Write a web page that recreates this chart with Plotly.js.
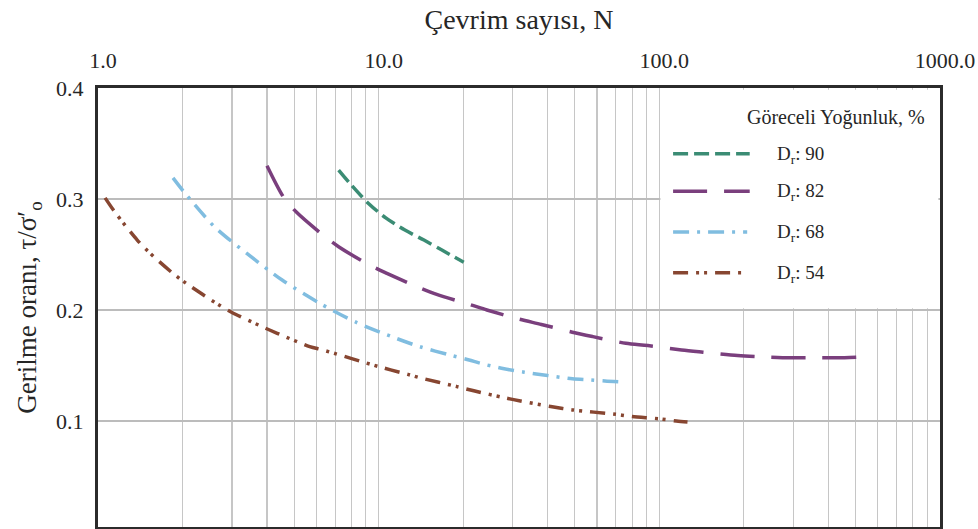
<!DOCTYPE html>
<html>
<head>
<meta charset="utf-8">
<script src="https://cdn.plot.ly/plotly-3.0.1.min.js"></script>
<style>
html,body{margin:0;padding:0;background:#fff;}
#chart{width:978px;height:529px;}
</style>
</head>
<body>
<div id="chart"></div>
<script>
// ---- data ----
const seriesNames = ["D<sub>r</sub>: 90", "D<sub>r</sub>: 82", "D<sub>r</sub>: 68", "D<sub>r</sub>: 54"];
const legendTitle = "Göreceli Yoğunluk, %";

const n90 = [7.2, 7.9, 9.2, 10.6, 12.4, 14.5, 16.8, 20.1];
const r90 = [0.326, 0.314, 0.296, 0.283, 0.272, 0.263, 0.254, 0.243];

const n82 = [4.0, 4.6, 5.1, 6.3, 7.2, 9.2, 10.7, 13.7, 16.1, 21.1, 24.3, 31.4, 38, 49, 58, 76, 91, 120, 143, 190, 225, 293, 348, 457, 555];
const r82 = [0.330, 0.301, 0.288, 0.268, 0.257, 0.241, 0.233, 0.221, 0.214, 0.205, 0.200, 0.192, 0.187, 0.180, 0.176, 0.170, 0.168, 0.164, 0.162, 0.159, 0.158, 0.157, 0.157, 0.157, 0.158];

const n68 = [1.85, 2.03, 2.6, 3.39, 4.53, 6.17, 8.3, 11.4, 14, 18.2, 21, 23, 28, 33, 40, 49, 57, 64, 75];
const r68 = [0.319, 0.306, 0.275, 0.251, 0.227, 0.206, 0.189, 0.175, 0.167, 0.159, 0.155, 0.152, 0.147, 0.144, 0.141, 0.138, 0.137, 0.136, 0.135];

const n54 = [1.06, 1.15, 1.38, 1.52, 1.87, 2.09, 2.64, 2.99, 3.84, 4.35, 5.68, 6.32, 10, 12.7, 14, 19, 22, 28, 32, 41, 49, 70, 80, 100, 115, 126];
const r54 = [0.301, 0.288, 0.263, 0.252, 0.232, 0.223, 0.206, 0.198, 0.185, 0.179, 0.167, 0.164, 0.149, 0.142, 0.139, 0.131, 0.127, 0.121, 0.118, 0.113, 0.110, 0.106, 0.104, 0.102, 0.100, 0.099];

// axis ticks
const xTickVals = [1, 10, 100, 1000];
const xTickText = ["1.0", "10.0", "100.0", "1000.0"];
const xMinorVals = [2,3,4,5,6,7,8,9,20,30,40,50,60,70,80,90,200,300,400,500,600,700,800,900];
const yTickVals = [0.1, 0.2, 0.3, 0.4];
const yTickText = ["0.1", "0.2", "0.3", "0.4"];

// ---- styles ----
const colors = ["#3b8c74", "#7a3f7d", "#80bde0", "#874631"];
const dashes = ["15px,6px", "34px,17px", "16px,8px,3px,8px", "15px,8px,3px,5px,3px,8px"];
const FONT = "'Liberation Serif', 'Times New Roman', serif";
const TXT = "#262626";
const GRID = "#c6c6c6";

const xs = [n90, n82, n68, n54];
const ys = [r90, r82, r68, r54];
const traces = xs.map((x, i) => ({
  x: x, y: ys[i], type: "scatter", mode: "lines", name: seriesNames[i],
  line: {color: colors[i], width: 3.5, dash: dashes[i], shape: "spline", smoothing: 0.8},
  showlegend: false, hoverinfo: "skip"
}));

// manual legend (white panel + samples + labels)
const legY = [0.850, 0.765, 0.672, 0.579];
const legX1 = [0.774, 0.774, 0.771, 0.765];
const shapes = [
  {type: "rect", xref: "x", yref: "y", x0: 100.9, x1: 987, y0: 0.2015, y1: 0.3985,
   fillcolor: "#ffffff", line: {width: 0}, layer: "above"}
];
const annotations = [
  {xref: "paper", yref: "paper", x: 0.985, y: 0.932, xanchor: "right", yanchor: "middle",
   text: legendTitle, showarrow: false, font: {family: FONT, size: 20, color: TXT}}
];
seriesNames.forEach((nm, i) => {
  shapes.push({type: "line", xref: "paper", yref: "paper", x0: 0.683, x1: legX1[i], y0: legY[i], y1: legY[i],
    line: {color: colors[i], width: 3.5, dash: dashes[i]}, layer: "above"});
  annotations.push({xref: "paper", yref: "paper", x: 0.804, y: legY[i] - 0.002, xanchor: "left", yanchor: "middle",
    text: nm, showarrow: false, font: {family: FONT, size: 19, color: TXT}});
});

const layout = {
  width: 978, height: 529,
  margin: {l: 98, r: 38, t: 88, b: 2, pad: 0},
  paper_bgcolor: "#ffffff", plot_bgcolor: "#ffffff",
  font: {family: FONT, color: TXT},
  showlegend: false,
  xaxis: {
    type: "log", range: [0, 3], side: "top",
    tickmode: "array", tickvals: xTickVals, ticktext: xTickText, ticks: "",
    tickfont: {family: FONT, size: 22, color: TXT},
    ticklabelstandoff: 8, ticklabelshift: 5,
    showgrid: true, gridcolor: GRID, gridwidth: 1.2,
    minor: {tickmode: "array", tickvals: xMinorVals, ticks: "", showgrid: true, gridcolor: GRID, gridwidth: 1.2},
    showline: true, linecolor: "#2b2b2b", linewidth: 3, mirror: true,
    zeroline: false,
    title: {text: "Çevrim sayısı, N", font: {family: FONT, size: 28, color: TXT}, standoff: 11}
  },
  yaxis: {
    range: [0.0045, 0.4],
    tickmode: "array", tickvals: yTickVals, ticktext: yTickText, ticks: "",
    tickfont: {family: FONT, size: 22, color: TXT},
    ticklabelstandoff: 7,
    showgrid: true, gridcolor: "#bcbcbc", gridwidth: 1.2,
    showline: true, linecolor: "#2b2b2b", linewidth: 3, mirror: true,
    zeroline: false,
    title: {text: "Gerilme oranı, τ/σ′<sub>o</sub>", font: {family: FONT, size: 27, color: TXT}, standoff: 12}
  },
  shapes: shapes,
  annotations: annotations
};

Plotly.newPlot("chart", traces, layout, {displayModeBar: false, staticPlot: true});
</script>
</body>
</html>
